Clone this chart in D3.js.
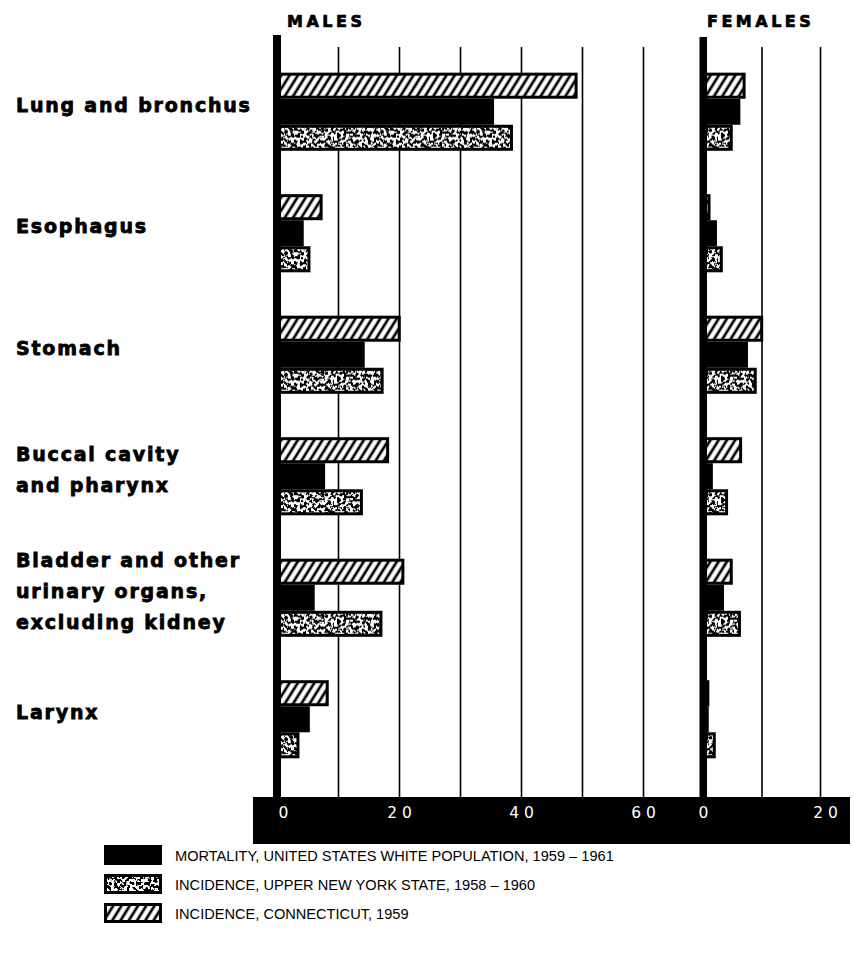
<!DOCTYPE html>
<html>
<head>
<meta charset="utf-8">
<script src="https://cdn.jsdelivr.net/npm/d3@7"></script>
<style>
  body { margin: 0; background: #fff; }
</style>
</head>
<body>
<svg id="chart" width="854" height="961"></svg>
<script>
// categories, top to bottom (\n = line break in the label)
const categories = [
  "Lung and bronchus",
  "Esophagus",
  "Stomach",
  "Buccal cavity\nand pharynx",
  "Bladder and other\nurinary organs,\nexcluding kidney",
  "Larynx"
];
const seriesKeys = ["connecticut", "mortality", "newYork"];

// rates
const maleConnecticut   = [49.2, 7.4, 20.2, 18.3, 20.8, 8.4];
const maleMortality     = [35.5, 4.3, 14.3, 7.8, 6.1, 5.3];
const maleNewYork       = [38.6, 5.4, 17.4, 14.0, 17.2, 3.6];
const femaleConnecticut = [7.2, 1.2, 10.2, 6.6, 5.0, 1.0];
const femaleMortality   = [6.3, 2.3, 7.6, 1.6, 3.5, 0.9];
const femaleNewYork     = [5.0, 3.3, 9.1, 4.2, 6.4, 2.1];

const maleTicks = [0, 20, 40, 60];
const femaleTicks = [0, 20];
const legendKeys = ["mortality", "newYork", "connecticut"];
const legendLabels = [
  "MORTALITY, UNITED STATES WHITE POPULATION, 1959 \u2013 1961",
  "INCIDENCE, UPPER NEW YORK STATE, 1958 \u2013 1960",
  "INCIDENCE, CONNECTICUT, 1959"
];

const svg = d3.select("#chart");
const labelFont = "'DejaVu Sans', Verdana, sans-serif";

// patterns: diagonal hatch and stipple
const defs = svg.append("defs");
const hatch = defs.append("pattern")
    .attr("id", "hatch")
    .attr("patternUnits", "userSpaceOnUse")
    .attr("width", 7).attr("height", 7)
    .attr("patternTransform", "rotate(32)");
hatch.append("rect").attr("width", 7).attr("height", 7).attr("fill", "#fff");
hatch.append("line")
    .attr("x1", 2).attr("x2", 2).attr("y1", -1).attr("y2", 8)
    .attr("stroke", "#000").attr("stroke-width", 2.7);

const noise = defs.append("filter")
    .attr("id", "noise")
    .attr("x", 0).attr("y", 0).attr("width", 1).attr("height", 1);
noise.append("feTurbulence")
    .attr("type", "fractalNoise")
    .attr("baseFrequency", 0.32)
    .attr("numOctaves", 2)
    .attr("seed", 7)
    .attr("stitchTiles", "stitch")
    .attr("result", "n");
noise.append("feColorMatrix")
    .attr("in", "n")
    .attr("type", "matrix")
    .attr("values", "0 0 0 0 0  0 0 0 0 0  0 0 0 0 0  -22 0 0 0 11.4")
    .attr("result", "dots");
noise.append("feComposite")
    .attr("in", "dots").attr("in2", "SourceGraphic").attr("operator", "in");

const stip = defs.append("pattern")
    .attr("id", "stip")
    .attr("patternUnits", "userSpaceOnUse")
    .attr("width", 96).attr("height", 96);
stip.append("rect").attr("width", 96).attr("height", 96).attr("fill", "#fff");
stip.append("rect").attr("width", 96).attr("height", 96).attr("fill", "#000")
    .attr("filter", "url(#noise)");

const fills = { connecticut: "url(#hatch)", newYork: "url(#stip)", mortality: "#000" };

// scales
const y = d3.scaleBand()
    .domain(categories)
    .range([35, 796])
    .paddingInner(0.357)
    .paddingOuter(0.31);
const ySub = d3.scaleBand().domain(seriesKeys).range([0, y.bandwidth()]);

const xMale = d3.scaleLinear().domain([0, 60]).range([277.5, 643.5]);
const xFemale = d3.scaleLinear().domain([0, 20]).range([703.5, 820.5]);

const panels = [
  { x: xMale, ticks: maleTicks, axisX: 273, axisW: 8, axisTop: 35, title: "MALES", titleX: 287,
    values: { connecticut: maleConnecticut, mortality: maleMortality, newYork: maleNewYork } },
  { x: xFemale, ticks: femaleTicks, axisX: 699.5, axisW: 7.5, axisTop: 37, title: "FEMALES", titleX: 707,
    values: { connecticut: femaleConnecticut, mortality: femaleMortality, newYork: femaleNewYork } }
];

const bottomY = 797;

panels.forEach(p => {
  // grid lines
  svg.append("g").selectAll("line")
    .data(p.x.ticks(p.x.domain()[1] / 10).filter(d => d > 0))
    .enter().append("line")
    .attr("x1", d => p.x(d)).attr("x2", d => p.x(d))
    .attr("y1", 47).attr("y2", bottomY)
    .attr("stroke", "#000").attr("stroke-width", 1.6);

  // bars
  const x0 = p.x(0);
  const rows = categories.map((c, i) => ({ c, i }));
  const grp = svg.append("g").selectAll("g")
    .data(rows).enter().append("g")
    .attr("transform", d => `translate(0,${y(d.c)})`);

  grp.selectAll("rect")
    .data(d => seriesKeys.map(k => ({ k, v: p.values[k][d.i] })))
    .enter().append("rect")
    .attr("x", x0)
    .attr("y", d => d.k === "mortality" ? ySub(d.k) : ySub(d.k) + 1.5)
    .attr("width", d => Math.max(0, p.x(d.v) - x0 - (d.k === "mortality" ? 0 : 1.5)))
    .attr("height", d => d.k === "mortality" ? ySub.bandwidth() : ySub.bandwidth() - 3)
    .attr("fill", d => fills[d.k])
    .attr("stroke", d => d.k === "mortality" ? "none" : "#000")
    .attr("stroke-width", 3);

  // thick zero axis
  svg.append("rect")
    .attr("x", p.axisX).attr("y", p.axisTop)
    .attr("width", p.axisW).attr("height", bottomY - p.axisTop + 2)
    .attr("fill", "#000");

  // panel title
  svg.append("text")
    .attr("x", p.titleX).attr("y", 27)
    .attr("font-family", labelFont)
    .attr("font-weight", "bold")
    .attr("font-size", 16)
    .attr("letter-spacing", 3.5)
    .attr("stroke", "#000").attr("stroke-width", 0.7)
    .text(p.title);
});

// black scale strip at the bottom
svg.append("rect")
  .attr("x", 253).attr("y", bottomY)
  .attr("width", 597).attr("height", 47)
  .attr("fill", "#000");

panels.forEach((p, pi) => {
  const ax = svg.append("g")
    .attr("transform", `translate(0,${bottomY})`)
    .call(d3.axisBottom(p.x).tickValues(p.ticks).tickSize(0).tickPadding(10).tickFormat(d3.format("d")));
  ax.select(".domain").remove();
  ax.selectAll("text")
    .attr("fill", "#fff")
    .attr("font-family", labelFont)
    .attr("font-size", 15.5)
    .attr("letter-spacing", 5)
    .attr("dx", d => (pi === 0 && d === 0) ? 8 : (pi === 1 && d === 20) ? 7 : 2);
});

// category labels
const labelG = svg.append("g");
categories.forEach(c => {
  const lines = c.split("\n");
  const mid = y(c) + y.bandwidth() / 2;
  lines.forEach((ln, j) => {
    labelG.append("text")
      .attr("x", 16)
      .attr("y", mid + (j - (lines.length - 1) / 2) * 31)
      .attr("font-family", labelFont)
      .attr("font-weight", "bold")
      .attr("font-size", 19)
      .attr("letter-spacing", 1.8)
      .attr("stroke", "#000").attr("stroke-width", 0.8)
      .text(ln);
  });
});

// legend
const legendRows = [855, 884, 913];
const lg = svg.append("g").selectAll("g")
  .data(legendKeys.map((k, i) => ({ k, label: legendLabels[i], cy: legendRows[i] })))
  .enter().append("g");
lg.append("rect")
  .attr("x", d => d.k === "mortality" ? 104 : 105.5)
  .attr("y", d => d.k === "mortality" ? d.cy - 10 : d.cy - 8.5)
  .attr("width", d => d.k === "mortality" ? 58 : 55)
  .attr("height", d => d.k === "mortality" ? 20 : 17)
  .attr("fill", d => fills[d.k])
  .attr("stroke", d => d.k === "mortality" ? "none" : "#000")
  .attr("stroke-width", 3);
lg.append("text")
  .attr("x", 175)
  .attr("y", d => d.cy + 5.5)
  .attr("font-family", "'Liberation Sans', Arial, sans-serif")
  .attr("font-size", 14.6)
  .text(d => d.label);
</script>
</body>
</html>
